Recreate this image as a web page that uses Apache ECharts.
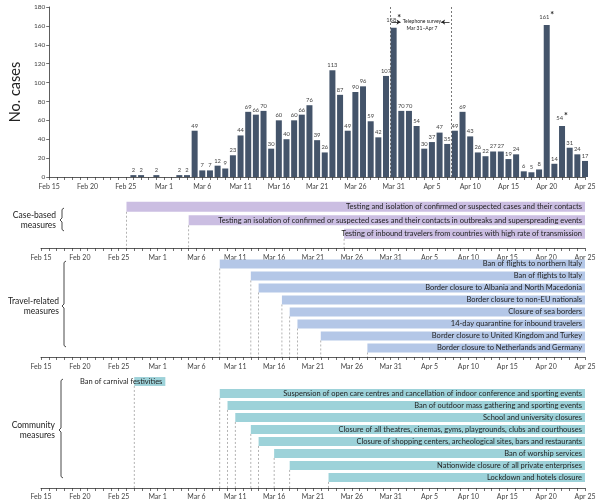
<!DOCTYPE html>
<html>
<head>
<meta charset="utf-8">
<script src="https://cdn.jsdelivr.net/npm/echarts@6/dist/echarts.min.js"></script>
<style>
  html, body { margin: 0; padding: 0; background: #fff; }
  #chart { width: 600px; height: 503px; }
</style>
</head>
<body>
<div id="chart"></div>
<script>
// 数据
const tickLabels = ['Feb 15', 'Feb 20', 'Feb 25', 'Mar 1', 'Mar 6', 'Mar 11', 'Mar 16', 'Mar 21',
  'Mar 26', 'Mar 31', 'Apr 5', 'Apr 10', 'Apr 15', 'Apr 20', 'Apr 25'];

// daily cases, Feb 15 .. Apr 25
const cases = [
  0, 0, 0, 0, 0, 0, 0, 0, 0, 0, 0,          // Feb 15-25
  2, 2, 0, 2,                               // Feb 26-29
  0, 0, 2, 2, 49,                           // Mar 1-5
  7, 7, 12, 9, 23, 44, 69, 66, 70, 30,      // Mar 6-15
  60, 40, 60, 66, 76, 39, 26, 113, 87, 49,  // Mar 16-25
  90, 96, 59, 42, 107, 158,                 // Mar 26-31
  70, 70, 54, 30, 37, 47, 35, 49, 69, 43,   // Apr 1-10
  26, 22, 27, 27, 19, 24, 6, 5, 8, 161,     // Apr 11-20
  14, 54, 31, 24, 17                        // Apr 21-25
];
const starred = ['Mar 31', 'Apr 20', 'Apr 22'];
const survey = ['Mar 31', 'Apr 7'];

const caseMeasures = [
  'Testing and isolation of confirmed or suspected cases and their contacts',
  'Testing an isolation of confirmed or suspected cases and their contacts in outbreaks and superspreading events',
  'Testing of inbound travelers from countries with high rate of transmission'
];
const caseStart = ['Feb 26', 'Mar 5', 'Mar 25'];
const caseEnd = ['Apr 25', 'Apr 25', 'Apr 25'];

const travelMeasures = [
  'Ban of flights to northern Italy',
  'Ban of flights to Italy',
  'Border closure to Albania and North Macedonia',
  'Border closure to non-EU nationals',
  'Closure of sea borders',
  '14-day quarantine for inbound travelers',
  'Border closure to United Kingdom and Turkey',
  'Border closure to Netherlands and Germany'
];
const travelStart = ['Mar 9', 'Mar 13', 'Mar 14', 'Mar 17', 'Mar 18', 'Mar 19', 'Mar 22', 'Mar 28'];
const travelEnd = ['Apr 25', 'Apr 25', 'Apr 25', 'Apr 25', 'Apr 25', 'Apr 25', 'Apr 25', 'Apr 25'];

const communityMeasures = [
  'Ban of carnival festivities',
  'Suspension of open care centres and cancellation of indoor conference and sporting events',
  'Ban of outdoor mass gathering and sporting events',
  'School and university closures',
  'Closure of all theatres, cinemas, gyms, playgrounds, clubs and courthouses',
  'Closure of shopping centers, archeological sites, bars and restaurants',
  'Ban of worship services',
  'Nationwide closure of all private enterprises',
  'Lockdown and hotels closure'
];
const communityStart = ['Feb 27', 'Mar 9', 'Mar 10', 'Mar 11', 'Mar 13', 'Mar 14', 'Mar 16', 'Mar 18', 'Mar 23'];
const communityEnd = ['Mar 2', 'Apr 25', 'Apr 25', 'Apr 25', 'Apr 25', 'Apr 25', 'Apr 25', 'Apr 25', 'Apr 25'];

// 'Mar 9' -> day number counted from Feb 15 (2020)
const dayIdx = s => {
  const [m, d] = s.split(' ');
  return { Feb: -15, Mar: 14, Apr: 45 }[m] + Number(d);
};

(function () {
  let myChart = echarts.init(document.getElementById('chart'));

  const font = 'Lato';
  const axisColor = '#333';

  function makeX(gridIndex, margin) {
    return {
      type: 'value', gridIndex: gridIndex, min: 0, max: 70, interval: 1,
      axisLine: { show: true, onZero: false, lineStyle: { color: axisColor, width: 0.8 } },
      axisTick: { show: true, length: 3, lineStyle: { color: axisColor, width: 0.7 } },
      axisLabel: {
        margin: margin, fontSize: 7, color: '#444', fontFamily: font,
        formatter: v => (v % 5 === 0 ? tickLabels[v / 5] : '')
      },
      splitLine: { show: false }
    };
  }

  function hiddenY(gridIndex, min, max) {
    return { type: 'value', gridIndex: gridIndex, inverse: true, min: min, max: max, show: false };
  }

  function gantt(gridIndex, names, starts, ends, color) {
    return {
      type: 'custom',
      xAxisIndex: gridIndex, yAxisIndex: gridIndex,
      data: names.map((n, i) => [dayIdx(starts[i]), dayIdx(ends[i]), i]),
      renderItem: function (params, api) {
        const a = api.coord([api.value(0), api.value(2)]);
        const b = api.coord([api.value(1), api.value(2)]);
        const h = api.size([0, 1])[1] * 0.74;
        const cs = params.coordSys;
        const top = a[1] - h / 2;
        return {
          type: 'group',
          children: [
            {
              type: 'line',
              shape: { x1: a[0], y1: top + h, x2: a[0], y2: cs.y + cs.height },
              style: { stroke: '#a0a0a0', lineWidth: 0.8, lineDash: [2, 2] }
            },
            {
              type: 'rect',
              shape: { x: a[0], y: top, width: b[0] - a[0], height: h },
              style: { fill: color }
            },
            {
              type: 'text',
              style: {
                text: names[params.dataIndex], x: b[0] - 3, y: a[1],
                align: 'right', verticalAlign: 'middle',
                fill: '#1e1e1e', font: '7.5px ' + font
              }
            }
          ]
        };
      }
    };
  }

  function bracket(x, y1, y2, ym) {
    return {
      type: 'polyline', silent: true,
      shape: { points: [[x + 2, y1], [x, y1 + 1.5], [x, ym - 2], [x - 2, ym], [x, ym + 2], [x, y2 - 1.5], [x + 2, y2]] },
      style: { stroke: '#333', lineWidth: 0.9, fill: null }
    };
  }

  function groupLabel(text, x, y) {
    return {
      type: 'text', silent: true,
      style: { text: text, x: x, y: y, align: 'right', verticalAlign: 'middle', font: '8.5px ' + font, fill: '#222', lineHeight: 10 }
    };
  }

  let option = {
    animation: false,
    backgroundColor: '#fff',
    textStyle: { fontFamily: font },
    grid: [
      { left: 41, right: 15, top: 7, height: 170 },
      { left: 41, right: 15, top: 200, height: 48 },
      { left: 41, right: 15, top: 258, height: 99 },
      { left: 41, right: 15, top: 375.5, height: 112.5 }
    ],
    xAxis: [makeX(0, 6), makeX(1, 6), makeX(2, 6), makeX(3, 5)],
    yAxis: [
      {
        type: 'value', gridIndex: 0, min: 0, max: 180, interval: 20,
        name: 'No. cases', nameLocation: 'middle', nameGap: 25, nameRotate: 90,
        nameTextStyle: { fontSize: 14.5, color: '#222', fontFamily: font },
        axisLine: { show: true, lineStyle: { color: axisColor, width: 0.8 } },
        axisTick: { show: true, length: 3, lineStyle: { color: axisColor, width: 0.7 } },
        axisLabel: { fontSize: 6.5, color: '#444', margin: 4 },
        splitLine: { show: false }
      },
      hiddenY(1, -0.5, 3.05),
      hiddenY(2, -0.5, 7.75),
      hiddenY(3, -0.5, 8.875)
    ],
    series: [
      {
        type: 'bar',
        xAxisIndex: 0, yAxisIndex: 0,
        barWidth: 6,
        data: cases.map((v, i) => [i, v]),
        itemStyle: { color: '#44546A' },
        label: {
          show: true, position: 'top', distance: 2,
          fontSize: 5.8, color: '#444',
          formatter: p => {
            const v = p.value[1];
            if (!v) return '';
            const star = starred.some(s => dayIdx(s) === p.value[0]);
            return star ? v + '{s|*}' : String(v);
          },
          rich: { s: { fontSize: 9, fontWeight: 'bold', color: '#222', padding: [0, 0, 3, 1] } }
        },
        markLine: {
          silent: true, symbol: 'none',
          lineStyle: { color: '#555', type: [2, 2], width: 0.8 },
          label: { show: false },
          data: [
            { xAxis: dayIdx(survey[0]) - 0.5 },
            { xAxis: dayIdx(survey[1]) + 0.5 },
            [
              { coord: [dayIdx(survey[0]) - 0.3, 164], symbol: 'none', lineStyle: { type: 'solid', color: '#222' } },
              { coord: [dayIdx(survey[0]) + 0.9, 164], symbol: 'arrow', symbolSize: 4 }
            ],
            [
              { coord: [dayIdx(survey[1]) + 0.3, 164], symbol: 'none', lineStyle: { type: 'solid', color: '#222' } },
              { coord: [dayIdx(survey[1]) - 0.8, 164], symbol: 'arrow', symbolSize: 4 }
            ]
          ]
        },
        markPoint: {
          silent: true, symbol: 'circle', symbolSize: 0,
          label: {
            show: true, formatter: 'Telephone survey\n' + survey[0] + '–' + survey[1],
            fontSize: 5, color: '#222', lineHeight: 7
          },
          data: [{ coord: [(dayIdx(survey[0]) + dayIdx(survey[1])) / 2 + 0.2, 161] }]
        }
      },
      gantt(1, caseMeasures, caseStart, caseEnd, '#CBBEE2'),
      gantt(2, travelMeasures, travelStart, travelEnd, '#B4C7E7'),
      gantt(3, communityMeasures, communityStart, communityEnd, '#9DD2D9')
    ],
    graphic: [
      bracket(62, 208, 231, 220),
      bracket(64, 261, 347, 306),
      bracket(61, 379, 478, 430),
      groupLabel('Case-based\nmeasures', 56, 220),
      groupLabel('Travel-related\nmeasures', 59, 306),
      groupLabel('Community\nmeasures', 55, 430)
    ]
  };

  myChart.setOption(option);
  window.addEventListener('resize', function () {
    myChart.resize();
  });
})();
</script>
</body>
</html>
